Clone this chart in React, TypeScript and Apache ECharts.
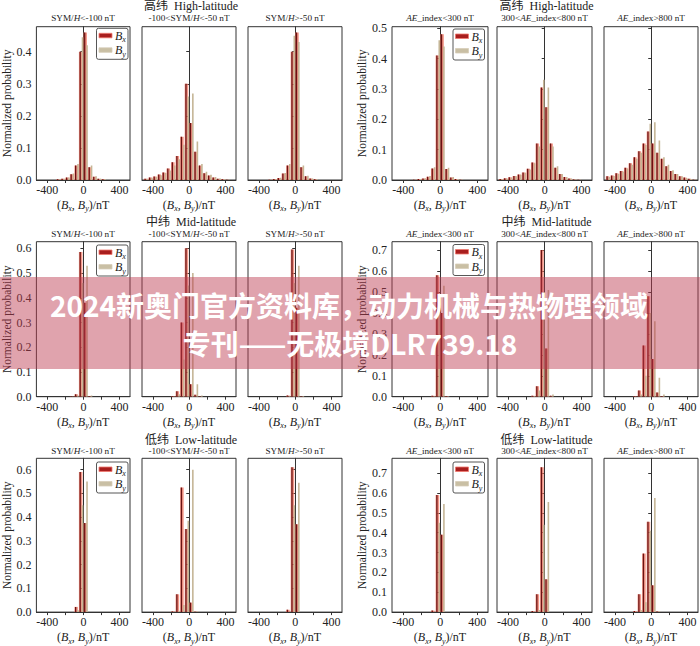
import React, { useEffect, useRef } from 'react';
import * as echarts from 'echarts';

// bin centres (nT), bin width 50 nT
const binCenters = [-475, -425, -375, -325, -275, -225, -175, -125, -75, -25, 25, 75, 125, 175, 225, 275, 325, 375, 425, 475];

// High-latitude, SYM/H groups
const hiSym1Bx = [0, 0, 0, 0, 0.002, 0.004, 0.008, 0.018, 0.045, 0.40, 0.46, 0.04, 0.01, 0.004, 0.002, 0, 0, 0, 0, 0];
const hiSym1By = [0, 0, 0, 0, 0.002, 0.004, 0.008, 0.02, 0.05, 0.445, 0.42, 0.045, 0.012, 0.004, 0.002, 0, 0, 0, 0, 0];
const hiSym2Bx = [0.004, 0.008, 0.011, 0.017, 0.023, 0.036, 0.055, 0.075, 0.135, 0.30, 0.178, 0.088, 0.045, 0.021, 0.014, 0.008, 0.004, 0.002, 0.001, 0];
const hiSym2By = [0.004, 0.007, 0.01, 0.015, 0.022, 0.03, 0.045, 0.065, 0.11, 0.26, 0.27, 0.12, 0.05, 0.026, 0.016, 0.009, 0.005, 0.002, 0.001, 0];
const hiSym3Bx = [0, 0, 0, 0, 0.001, 0.003, 0.006, 0.02, 0.045, 0.40, 0.46, 0.04, 0.012, 0.005, 0.002, 0, 0, 0, 0, 0];
const hiSym3By = [0, 0, 0, 0, 0.001, 0.003, 0.007, 0.022, 0.05, 0.45, 0.43, 0.045, 0.013, 0.005, 0.002, 0, 0, 0, 0, 0];
// High-latitude, AE index groups
const hiAe1Bx = [0, 0, 0, 0, 0.001, 0.003, 0.005, 0.011, 0.038, 0.41, 0.48, 0.036, 0.008, 0.003, 0.001, 0, 0, 0, 0, 0];
const hiAe1By = [0, 0, 0, 0, 0.001, 0.003, 0.006, 0.013, 0.042, 0.46, 0.44, 0.04, 0.01, 0.003, 0.001, 0, 0, 0, 0, 0];
const hiAe2Bx = [0.003, 0.006, 0.009, 0.013, 0.018, 0.025, 0.037, 0.058, 0.12, 0.305, 0.24, 0.12, 0.04, 0.02, 0.01, 0.005, 0.002, 0.001, 0, 0];
const hiAe2By = [0.003, 0.005, 0.008, 0.012, 0.017, 0.024, 0.035, 0.055, 0.11, 0.33, 0.305, 0.11, 0.045, 0.02, 0.01, 0.005, 0.002, 0.001, 0, 0];
const hiAe3Bx = [0.012, 0.015, 0.022, 0.03, 0.04, 0.055, 0.075, 0.095, 0.12, 0.16, 0.12, 0.09, 0.07, 0.045, 0.03, 0.02, 0.012, 0.008, 0.004, 0.001];
const hiAe3By = [0.01, 0.013, 0.02, 0.028, 0.038, 0.05, 0.07, 0.09, 0.115, 0.185, 0.19, 0.13, 0.075, 0.05, 0.032, 0.02, 0.012, 0.007, 0.003, 0.001];
// Mid-latitude
const midSym1Bx = [0, 0, 0, 0, 0, 0, 0, 0.002, 0.01, 0.585, 0.38, 0.003, 0, 0, 0, 0, 0, 0, 0, 0];
const midSym1By = [0, 0, 0, 0, 0, 0, 0, 0.001, 0.005, 0.46, 0.53, 0.005, 0, 0, 0, 0, 0, 0, 0, 0];
const midSym2Bx = [0, 0, 0, 0, 0, 0, 0.003, 0.022, 0.30, 0.60, 0.05, 0.008, 0.002, 0, 0, 0, 0, 0, 0, 0];
const midSym2By = [0, 0, 0, 0, 0, 0, 0.001, 0.01, 0.15, 0.45, 0.50, 0.05, 0.005, 0, 0, 0, 0, 0, 0, 0];
const midSym3Bx = [0, 0, 0, 0, 0, 0, 0, 0, 0.005, 0.595, 0.36, 0.002, 0, 0, 0, 0, 0, 0, 0, 0];
const midSym3By = [0, 0, 0, 0, 0, 0, 0, 0, 0.003, 0.46, 0.53, 0.003, 0, 0, 0, 0, 0, 0, 0, 0];
const midAe1Bx = [0, 0, 0, 0, 0, 0, 0, 0, 0.004, 0.58, 0.40, 0.003, 0, 0, 0, 0, 0, 0, 0, 0];
const midAe1By = [0, 0, 0, 0, 0, 0, 0, 0, 0.002, 0.45, 0.53, 0.002, 0, 0, 0, 0, 0, 0, 0, 0];
const midAe2Bx = [0, 0, 0, 0, 0, 0, 0, 0.005, 0.05, 0.70, 0.23, 0.005, 0, 0, 0, 0, 0, 0, 0, 0];
const midAe2By = [0, 0, 0, 0, 0, 0, 0, 0.003, 0.03, 0.40, 0.51, 0.01, 0, 0, 0, 0, 0, 0, 0, 0];
const midAe3Bx = [0, 0, 0, 0, 0, 0, 0.003, 0.03, 0.245, 0.48, 0.18, 0.02, 0.003, 0, 0, 0, 0, 0, 0, 0];
const midAe3By = [0, 0, 0, 0, 0, 0, 0, 0.01, 0.1, 0.40, 0.36, 0.09, 0.01, 0, 0, 0, 0, 0, 0, 0];
// Low-latitude
const lowSym1Bx = [0, 0, 0, 0, 0, 0, 0, 0, 0.022, 0.59, 0.375, 0, 0, 0, 0, 0, 0, 0, 0, 0];
const lowSym1By = [0, 0, 0, 0, 0, 0, 0, 0, 0.008, 0.45, 0.55, 0, 0, 0, 0, 0, 0, 0, 0, 0];
const lowSym2Bx = [0, 0, 0, 0, 0, 0, 0.003, 0.075, 0.525, 0.35, 0.04, 0.002, 0, 0, 0, 0, 0, 0, 0, 0];
const lowSym2By = [0, 0, 0, 0, 0, 0, 0, 0.005, 0.03, 0.385, 0.60, 0.003, 0, 0, 0, 0, 0, 0, 0, 0];
const lowSym3Bx = [0, 0, 0, 0, 0, 0, 0, 0, 0.01, 0.61, 0.37, 0, 0, 0, 0, 0, 0, 0, 0, 0];
const lowSym3By = [0, 0, 0, 0, 0, 0, 0, 0, 0, 0.45, 0.545, 0, 0, 0, 0, 0, 0, 0, 0, 0];
const lowAe1Bx = [0, 0, 0, 0, 0, 0, 0, 0, 0.008, 0.59, 0.39, 0, 0, 0, 0, 0, 0, 0, 0, 0];
const lowAe1By = [0, 0, 0, 0, 0, 0, 0, 0, 0, 0.45, 0.545, 0, 0, 0, 0, 0, 0, 0, 0, 0];
const lowAe2Bx = [0, 0, 0, 0, 0, 0, 0, 0.005, 0.09, 0.73, 0.165, 0, 0, 0, 0, 0, 0, 0, 0, 0];
const lowAe2By = [0, 0, 0, 0, 0, 0, 0, 0, 0.01, 0.44, 0.555, 0, 0, 0, 0, 0, 0, 0, 0, 0];
const lowAe3Bx = [0, 0, 0, 0, 0, 0, 0.005, 0.09, 0.295, 0.455, 0.135, 0.003, 0, 0, 0, 0, 0, 0, 0, 0];
const lowAe3By = [0, 0, 0, 0, 0, 0, 0, 0.01, 0.05, 0.41, 0.575, 0.005, 0, 0, 0, 0, 0, 0, 0, 0];

const groupTitles = ['高纬  High-latitude', '中纬  Mid-latitude', '低纬  Low-latitude'];
const symTitles = ['SYM/{i|H}<-100 nT', '-100<SYM/{i|H}<-50 nT', 'SYM/{i|H}>-50 nT'];
const aeTitles = ['{i|AE}_index<300 nT', '300<{i|AE}_index<800 nT', '{i|AE}_index>800 nT'];
const xTickValues = [-400, -200, 0, 200, 400];
const xLabelValues = [-400, 0, 400];
// y tick tops per row: [SYM group, AE group]
const yTickTops = [[0.4, 0.5], [0.6, 0.7], [0.6, 0.7]];
const yMaxes = [[0.478, 0.505], [0.627, 0.74], [0.648, 0.775]];

const rowData = [
  [[hiSym1Bx, hiSym1By], [hiSym2Bx, hiSym2By], [hiSym3Bx, hiSym3By], [hiAe1Bx, hiAe1By], [hiAe2Bx, hiAe2By], [hiAe3Bx, hiAe3By]],
  [[midSym1Bx, midSym1By], [midSym2Bx, midSym2By], [midSym3Bx, midSym3By], [midAe1Bx, midAe1By], [midAe2Bx, midAe2By], [midAe3Bx, midAe3By]],
  [[lowSym1Bx, lowSym1By], [lowSym2Bx, lowSym2By], [lowSym3Bx, lowSym3By], [lowAe1Bx, lowAe1By], [lowAe2Bx, lowAe2By], [lowAe3Bx, lowAe3By]],
];

const FONT = "'Liberation Serif', 'Times New Roman', 'DejaVu Serif', 'Noto Sans CJK SC', serif";
const TXT = '#222';

// layout
const colLefts = [36, 142, 248, 392, 497, 604];
const colWidths = [94, 94, 94, 96, 95, 94];
const rowTops = [26.7, 241.7, 458.3];
const rowBottoms = [180, 396.7, 615];
const titleYs = [6, 222, 440];
const subTitleYs = [18, 234, 451];
const legendYs = [[28.3, 29], [245, 244.5], [462, 462]];
const legendXs = [96.5, 453];

const ticksTo = (top: number) => {
  const out: number[] = [];
  for (let k = 0; k <= Math.round(top * 10); k++) out.push(k / 10);
  return out;
};

const richB = {
  i: { fontFamily: FONT, fontSize: 12, fontStyle: 'italic', lineHeight: 16, verticalAlign: 'middle', color: TXT },
  s: { fontFamily: FONT, fontSize: 8, fontStyle: 'italic', lineHeight: 10, verticalAlign: 'bottom', color: TXT },
};

function renderHist(params: any, api: any) {
  const c = api.value(0) as number;
  const bx = api.value(1) as number;
  const by = api.value(2) as number;
  const base = api.coord([c, 0]);
  const children: any[] = [];
  if (bx > 0) {
    const top = api.coord([c, bx])[1];
    const l = api.coord([c - 25, 0])[0];
    const r = api.coord([c + 14, 0])[0];
    children.push({ type: 'rect', shape: { x: l, y: top, width: r - l, height: base[1] - top }, style: { fill: 'rgba(240,112,92,0.72)' } });
  }
  if (by > 0) {
    const top = api.coord([c, by])[1];
    const tl = api.coord([c + 6, 0])[0];
    children.push({ type: 'rect', shape: { x: tl, y: top, width: 1.6, height: base[1] - top }, style: { fill: '#c5b696' } });
  }
  if (bx > 0) {
    const top = api.coord([c, bx])[1];
    const dl = api.coord([c - 18, 0])[0];
    children.push({ type: 'rect', shape: { x: dl, y: top, width: 1.3, height: base[1] - top }, style: { fill: '#6a1212' } });
  }
  return { type: 'group', children };
}

function buildOption() {
  const grid: any[] = [];
  const xAxis: any[] = [];
  const yAxis: any[] = [];
  const series: any[] = [];
  const graphic: any[] = [];

  for (let r = 0; r < 3; r++) {
    for (let c = 0; c < 6; c++) {
      const idx = r * 6 + c;
      const g = c < 3 ? 0 : 1;
      const first = c === 0 || c === 3;
      grid.push({
        left: colLefts[c], top: rowTops[r], width: colWidths[c], height: rowBottoms[r] - rowTops[r],
        show: true, borderColor: '#333', borderWidth: 1, backgroundColor: 'transparent', containLabel: false,
      });
      xAxis.push({
        gridIndex: idx, type: 'value', min: -520, max: 515,
        axisLine: { show: true, onZero: false, lineStyle: { color: '#333', width: 1 } },
        axisTick: { show: true, customValues: xTickValues, length: 3, lineStyle: { color: '#333' } },
        axisLabel: { customValues: xLabelValues, fontFamily: FONT, fontSize: 12, color: TXT, margin: 4 },
        splitLine: { show: false },
        name: '({i|B}{s|x}, {i|B}{s|y})/nT', nameLocation: 'middle', nameGap: 15,
        nameTextStyle: { fontFamily: FONT, fontSize: 12, color: TXT, lineHeight: 16, verticalAlign: 'top', rich: richB },
      });
      const tv = ticksTo(yTickTops[r][g]);
      yAxis.push({
        gridIndex: idx, type: 'value', min: 0, max: yMaxes[r][g],
        axisLine: { show: true, lineStyle: { color: '#333', width: 1 } },
        axisTick: { show: true, customValues: tv, length: 3, lineStyle: { color: '#333' } },
        axisLabel: { show: first, customValues: tv, formatter: (v: number) => v.toFixed(1), fontFamily: FONT, fontSize: 12, color: TXT, margin: 5 },
        splitLine: { show: false },
        name: first ? 'Normalized probability' : '', nameLocation: 'middle', nameGap: g === 0 ? 21 : 22, nameRotate: 90,
        nameTextStyle: { fontFamily: FONT, fontSize: 11.5, color: TXT },
      });
      const [bx, by] = rowData[r][c];
      series.push({
        type: 'custom', xAxisIndex: idx, yAxisIndex: idx, clip: true, silent: true,
        renderItem: renderHist,
        encode: { x: 0, y: [1, 2] },
        data: binCenters.map((v, i) => [v, bx[i], by[i]]),
      });
      // sub-title
      graphic.push({
        type: 'text', x: colLefts[c] + colWidths[c] / 2, y: subTitleYs[r], silent: true,
        style: {
          text: (g === 0 ? symTitles : aeTitles)[c % 3], fontFamily: FONT, fontSize: 9.2, fill: TXT,
          align: 'center', verticalAlign: 'middle',
          rich: { i: { fontFamily: FONT, fontSize: 9.2, fontStyle: 'italic', fill: TXT } },
        },
      });
    }
    // group titles
    for (let g = 0; g < 2; g++) {
      const mid = g * 3 + 1;
      graphic.push({
        type: 'text', x: colLefts[mid] + colWidths[mid] / 2 + 2, y: titleYs[r], silent: true,
        style: { text: groupTitles[r], fontFamily: FONT, fontSize: 12, fill: TXT, align: 'center', verticalAlign: 'middle' },
      });
      // legend
      const lx = legendXs[g];
      const ly = legendYs[r][g];
      graphic.push({
        type: 'group', silent: true, children: [
          { type: 'rect', shape: { x: lx, y: ly, width: 31.5, height: 31, r: 2 }, style: { fill: '#fff', stroke: '#444', lineWidth: 0.9 } },
          { type: 'rect', shape: { x: lx + 2.5, y: ly + 5, width: 13, height: 4.5 }, style: { fill: '#a81e1e', stroke: 'rgba(240,120,110,0.8)', lineWidth: 1 } },
          { type: 'rect', shape: { x: lx + 2.5, y: ly + 19.5, width: 13, height: 4.5 }, style: { fill: '#c9bfa4', stroke: 'rgba(215,205,185,0.8)', lineWidth: 1 } },
          { type: 'text', x: lx + 18.5, y: ly + 7.5, style: { text: '{i|B}{s|x}', fontFamily: FONT, fontSize: 12, fill: TXT, verticalAlign: 'middle', rich: { i: { ...richB.i, fill: TXT }, s: { ...richB.s, fill: TXT } } } },
          { type: 'text', x: lx + 18.5, y: ly + 22, style: { text: '{i|B}{s|y}', fontFamily: FONT, fontSize: 12, fill: TXT, verticalAlign: 'middle', rich: { i: { ...richB.i, fill: TXT }, s: { ...richB.s, fill: TXT } } } },
        ],
      });
    }
  }

  // overlay banner
  graphic.push({
    type: 'rect', z: 100, silent: true,
    shape: { x: 0, y: 277, width: 700, height: 92 },
    style: { fill: 'rgba(190,60,80,0.47)' },
  });
  graphic.push({
    type: 'text', z: 101, silent: true, x: 349, y: 305,
    style: { text: '2024新奥门官方资料库，动力机械与热物理领域', fontFamily: "'Noto Sans CJK SC', 'Noto Sans', sans-serif", fontWeight: 'bold', fontSize: 28, fill: '#fff', align: 'center', verticalAlign: 'middle' },
  });
  graphic.push({
    type: 'text', z: 101, silent: true, x: 350, y: 343,
    style: { text: '专刊——无极境DLR739.18', fontFamily: "'Noto Sans CJK SC', 'Noto Sans', sans-serif", fontWeight: 'bold', fontSize: 28, fill: '#fff', align: 'center', verticalAlign: 'middle' },
  });

  return { animation: false, backgroundColor: '#fff', grid, xAxis, yAxis, series, graphic };
}

export default function App() {
  const ref = useRef<HTMLDivElement>(null);
  useEffect(() => {
    document.body.style.margin = '0';
    const chart = echarts.init(ref.current as HTMLDivElement, null, { renderer: 'svg' });
    chart.setOption(buildOption() as any);
    return () => chart.dispose();
  }, []);
  return <div ref={ref} style={{ width: 700, height: 646 }} />;
}
